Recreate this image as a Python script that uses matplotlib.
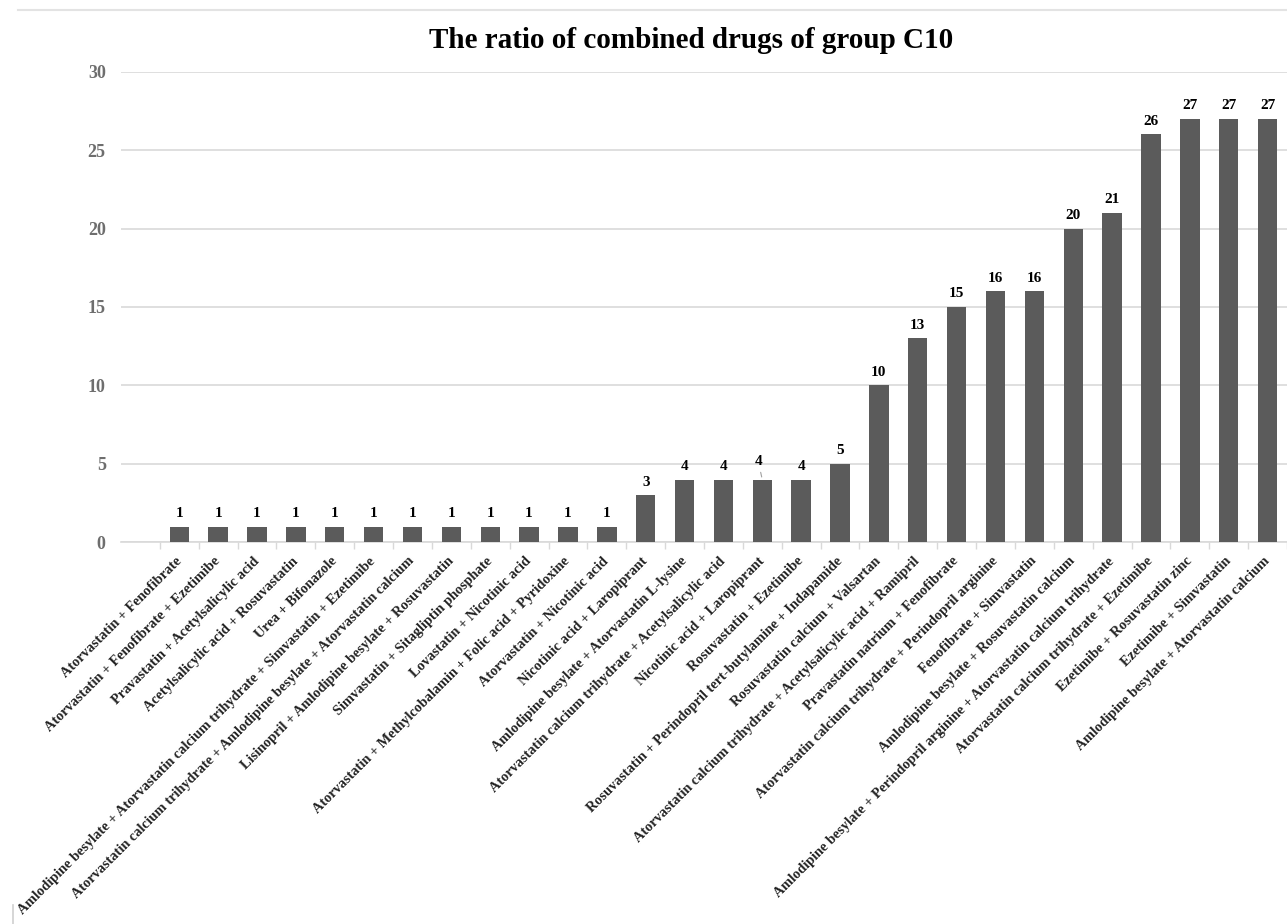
import matplotlib
matplotlib.use("Agg")
import matplotlib.pyplot as plt
from matplotlib.lines import Line2D

# --- Data ---
combinations = [
    "Atorvastatin + Fenofibrate",
    "Atorvastatin + Fenofibrate + Ezetimibe",
    "Pravastatin + Acetylsalicylic acid",
    "Acetylsalicylic acid + Rosuvastatin",
    "Urea + Bifonazole",
    "Amlodipine besylate + Atorvastatin calcium trihydrate + Simvastatin + Ezetimibe",
    "Atorvastatin calcium trihydrate + Amlodipine besylate + Atorvastatin calcium",
    "Lisinopril + Amlodipine besylate + Rosuvastatin",
    "Simvastatin + Sitagliptin phosphate",
    "Lovastatin + Nicotinic acid",
    "Atorvastatin + Methylcobalamin + Folic acid + Pyridoxine",
    "Atorvastatin + Nicotinic acid",
    "Nicotinic acid + Laropiprant",
    "Amlodipine besylate + Atorvastatin L-lysine",
    "Atorvastatin calcium trihydrate + Acetylsalicylic acid",
    "Nicotinic acid + Laropiprant",
    "Rosuvastatin + Ezetimibe",
    "Rosuvastatin + Perindopril tert-butylamine + Indapamide",
    "Rosuvastatin calcium + Valsartan",
    "Atorvastatin calcium trihydrate + Acetylsalicylic acid + Ramipril",
    "Pravastatin natrium + Fenofibrate",
    "Atorvastatin calcium trihydrate + Perindopril arginine",
    "Fenofibrate + Simvastatin",
    "Amlodipine besylate + Rosuvastatin calcium",
    "Amlodipine besylate + Perindopril arginine + Atorvastatin calcium trihydrate",
    "Atorvastatin calcium trihydrate + Ezetimibe",
    "Ezetimibe + Rosuvastatin zinc",
    "Ezetimibe + Simvastatin",
    "Amlodipine besylate + Atorvastatin calcium",
]
counts = [1, 1, 1, 1, 1, 1, 1, 1, 1, 1, 1, 1,
          3, 4, 4, 4, 4, 5, 10, 13, 15, 16, 16, 20, 21, 26, 27, 27, 27]
y_ticks = [0, 5, 10, 15, 20, 25, 30]
title = "The ratio of combined drugs of group C10"

# --- Style ---
plt.rcParams['font.family'] = ['Liberation Serif', 'DejaVu Serif']
plt.rcParams['font.weight'] = 'bold'
BAR_COLOR = '#5b5b5b'
GRID_COLOR = '#d9d9d9'

fig = plt.figure(figsize=(12.87, 9.24), dpi=100)
ax = fig.add_axes([121 / 1287, 0.4129, 1 - 121 / 1287, 0.5097])

x = list(range(len(counts)))
bars = ax.bar(x, counts, width=0.5, color=BAR_COLOR, zorder=3)

# value labels on top of each bar
for i, (b, v) in enumerate(zip(bars, counts)):
    cx = b.get_x() + b.get_width() / 2
    if i == 15:
        # this one is nudged up with a small leader line in the original
        ax.annotate(str(v), xy=(cx, v), xytext=(-4, 18),
                    textcoords='offset pixels',
                    ha='center', va='center', fontsize=11, fontweight='bold',
                    arrowprops=dict(arrowstyle='-', color='#a0a0a0', lw=0.8,
                                    shrinkA=1, shrinkB=2))
    else:
        ax.annotate(str(v), xy=(cx, v), xytext=(0, 13),
                    textcoords='offset pixels',
                    ha='center', va='center', fontsize=11, fontweight='bold')

ax.set_xlim(-1.5, 28.28)
ax.set_ylim(0, 30)
ax.set_yticks(y_ticks)
ax.set_yticklabels([str(t) for t in y_ticks], color='#6e6e6e', fontsize=13,
                   fontweight='bold')
ax.tick_params(axis='y', length=0, pad=11)

# category boundaries carry the small tick marks
ax.set_xticks([i - 0.5 for i in range(len(counts) + 1)], minor=False)
ax.set_xticklabels([])
ax.tick_params(axis='x', which='major', length=5, color=GRID_COLOR, width=1)
ax.set_xticks(x, minor=True)
ax.set_xticklabels(combinations, minor=True, rotation=45, ha='right',
                   va='center', rotation_mode='anchor', fontsize=10.3,
                   fontweight='bold', color='#222222')
ax.tick_params(axis='x', which='minor', length=0, pad=12)

ax.yaxis.grid(True, color=GRID_COLOR, linewidth=1.2, zorder=0)
for side in ['top', 'right', 'left']:
    ax.spines[side].set_visible(False)
ax.spines['bottom'].set_color(GRID_COLOR)
ax.spines['bottom'].set_linewidth(1.2)

fig.text(0.537, 0.956, title, ha='center', va='center', fontsize=21,
         fontweight='bold')

# chart border remnants
fig.add_artist(Line2D([18 / 1287, 1], [1 - 10 / 924, 1 - 10 / 924],
                      color='#e3e3e3', linewidth=1.5))
fig.add_artist(Line2D([13 / 1287, 13 / 1287], [0, 1 - 905 / 924],
                      color='#cfcfcf', linewidth=1.2))

fig.savefig("out.png", dpi=100)
